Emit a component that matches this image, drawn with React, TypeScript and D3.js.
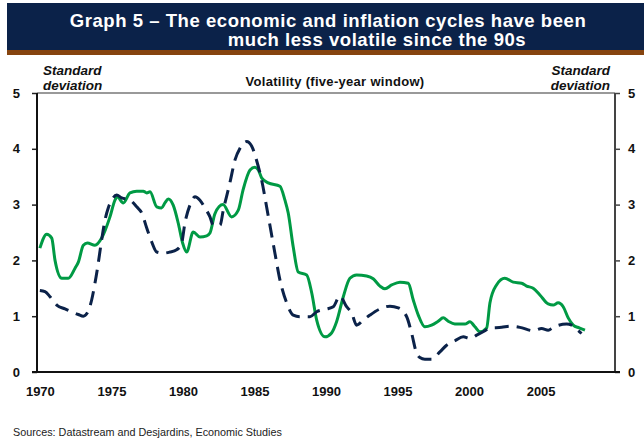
import * as d3 from "d3";
import { useEffect, useRef } from "react";

const titleLines = [
	"Graph 5 – The economic and inflation cycles have been",
	"much less volatile since the 90s",
];
const yTicks = [0, 1, 2, 3, 4, 5];
const xTickYears = [1970, 1975, 1980, 1985, 1990, 1995, 2000, 2005];

// [year, standard deviation] – green solid line
const economicVol: [number, number][] = [
	[1970.0, 2.22], [1970.48, 2.47], [1970.83, 2.4], [1971.06, 2.0], [1971.53, 1.68],
	[1971.99, 1.68], [1972.46, 1.86], [1972.69, 1.97], [1973.04, 2.27], [1973.32, 2.31],
	[1973.85, 2.27], [1974.32, 2.4], [1974.9, 2.78], [1975.25, 3.08], [1975.41, 3.14],
	[1975.83, 3.03], [1976.3, 3.21], [1976.77, 3.24], [1977.23, 3.24], [1977.47, 3.21],
	[1977.7, 3.23], [1978.17, 2.96], [1978.51, 2.94], [1978.74, 3.03], [1978.98, 3.1],
	[1979.32, 2.99], [1979.67, 2.67], [1979.98, 2.31], [1980.26, 2.15], [1980.72, 2.51],
	[1981.19, 2.42], [1981.66, 2.44], [1981.89, 2.49], [1982.24, 2.84], [1982.8, 3.0],
	[1983.4, 2.78], [1983.87, 2.9], [1984.2, 3.26], [1984.69, 3.62], [1985.03, 3.67],
	[1985.27, 3.62], [1985.5, 3.48], [1985.96, 3.39], [1986.78, 3.33], [1987.13, 3.08],
	[1987.36, 2.85], [1987.71, 2.24], [1988.06, 1.79], [1988.65, 1.74], [1989.0, 1.42],
	[1989.35, 0.93], [1989.93, 0.63], [1990.39, 0.7], [1990.74, 0.9], [1991.2, 1.34],
	[1991.67, 1.68], [1992.14, 1.74], [1992.84, 1.72], [1993.3, 1.67], [1993.77, 1.54],
	[1994.12, 1.49], [1994.59, 1.56], [1995.17, 1.61], [1995.75, 1.59], [1996.1, 1.29],
	[1996.45, 1.02], [1996.91, 0.81], [1997.38, 0.84], [1997.84, 0.91], [1998.19, 0.97],
	[1998.54, 0.91], [1999.01, 0.86], [1999.71, 0.86], [2000.06, 0.9], [2000.41, 0.81],
	[2000.76, 0.72], [2001.23, 0.79], [2001.46, 1.24], [2001.92, 1.56], [2002.5, 1.68],
	[2003.09, 1.61], [2003.67, 1.59], [2004.02, 1.54], [2004.48, 1.5], [2004.95, 1.38],
	[2005.53, 1.22], [2005.88, 1.2], [2006.23, 1.24], [2006.58, 1.17], [2006.93, 0.97],
	[2007.28, 0.84], [2007.7, 0.79], [2008.1, 0.75],
];

// [year, standard deviation] – navy dashed line
const inflationVol: [number, number][] = [
	[1970.0, 1.46], [1970.36, 1.44], [1970.71, 1.35], [1971.18, 1.2], [1971.76, 1.13],
	[1972.22, 1.08], [1972.69, 1.03], [1973.04, 1.0], [1973.32, 1.06], [1973.62, 1.29],
	[1973.85, 1.59], [1974.04, 1.88], [1974.32, 2.37], [1974.55, 2.72], [1974.78, 2.94],
	[1975.02, 3.08], [1975.37, 3.17], [1975.72, 3.12], [1976.3, 3.08], [1976.77, 2.96],
	[1977.12, 2.85], [1977.47, 2.58], [1977.82, 2.33], [1978.17, 2.15], [1978.63, 2.13],
	[1979.09, 2.15], [1979.56, 2.19], [1979.91, 2.31], [1980.14, 2.67], [1980.49, 2.99],
	[1980.84, 3.14], [1981.19, 3.08], [1981.54, 2.94], [1981.89, 2.78], [1982.12, 2.63],
	[1982.59, 2.63], [1982.82, 2.9], [1983.29, 3.4], [1983.64, 3.8], [1983.99, 4.01],
	[1984.45, 4.13], [1984.8, 4.05], [1985.15, 3.79], [1985.5, 3.44], [1985.96, 2.8],
	[1986.43, 2.13], [1986.78, 1.65], [1987.25, 1.24], [1987.71, 1.02], [1988.18, 0.99],
	[1988.88, 0.99], [1989.35, 1.08], [1990.04, 1.13], [1990.51, 1.17], [1990.97, 1.36],
	[1991.44, 1.17], [1991.79, 1.06], [1992.14, 0.84], [1992.6, 0.93], [1993.07, 1.02],
	[1993.77, 1.13], [1994.47, 1.18], [1995.05, 1.15], [1995.64, 0.99], [1995.98, 0.7],
	[1996.33, 0.34], [1996.56, 0.26], [1996.91, 0.23], [1997.38, 0.23], [1997.96, 0.36],
	[1998.43, 0.48], [1999.01, 0.56], [1999.59, 0.63], [2000.06, 0.6], [2000.53, 0.66],
	[2001.11, 0.74], [2001.46, 0.79], [2002.28, 0.8], [2002.86, 0.82], [2003.55, 0.8],
	[2004.48, 0.74], [2005.07, 0.78], [2005.53, 0.75], [2005.88, 0.8], [2006.82, 0.86],
	[2007.17, 0.84], [2007.51, 0.77], [2007.86, 0.69],
];

const NAVY = "#0b2249";
const GREEN = "#009a44";
const FONT = "'Liberation Sans', Arial, sans-serif";

export default function App() {
	const svgRef = useRef<SVGSVGElement>(null);

	useEffect(() => {
		if (!svgRef.current) return;
		const svg = d3.select(svgRef.current);
		svg.selectAll("*").remove();

		const plot = { left: 37, right: 615, top: 93, bottom: 372 };

		const x = d3.scaleLinear().domain([1969.8, 2010.2]).range([plot.left, plot.right]);
		const y = d3.scaleLinear().domain([0, 5]).range([plot.bottom, plot.top]);

		// Title band
		svg.append("rect").attr("x", 7).attr("y", 3).attr("width", 637).attr("height", 47).attr("fill", NAVY);
		svg.append("rect").attr("x", 7).attr("y", 50).attr("width", 637).attr("height", 5).attr("fill", "#86440f");
		svg.append("text")
			.attr("x", 328).attr("y", 27)
			.attr("text-anchor", "middle")
			.style("font", `bold 18.5px ${FONT}`)
			.style("letter-spacing", "0.55px")
			.attr("fill", "white")
			.text(titleLines[0]);
		svg.append("text")
			.attr("x", 377).attr("y", 46)
			.attr("text-anchor", "middle")
			.style("font", `bold 18.5px ${FONT}`)
			.style("letter-spacing", "0.55px")
			.attr("fill", "white")
			.text(titleLines[1]);

		// Unit labels
		const unit = (xPos: number, anchor: string) => {
			const t = svg.append("text")
				.attr("text-anchor", anchor)
				.style("font", `italic bold 13.5px ${FONT}`)
				.attr("fill", "#111");
			t.append("tspan").attr("x", xPos).attr("y", 75).text("Standard");
			t.append("tspan").attr("x", xPos).attr("y", 90).text("deviation");
		};
		unit(43, "start");
		unit(610, "end");

		svg.append("text")
			.attr("x", 335).attr("y", 86)
			.attr("text-anchor", "middle")
			.style("font", `bold 13px ${FONT}`)
			.style("letter-spacing", "0.3px")
			.attr("fill", "#111")
			.text("Volatility (five-year window)");

		// Top border
		svg.append("line")
			.attr("x1", plot.left).attr("x2", plot.right)
			.attr("y1", plot.top).attr("y2", plot.top)
			.attr("stroke", "#777").attr("stroke-width", 1.5);

		// Axes
		const styleAxis = (g: any, color: string) => {
			g.select(".domain").remove();
			g.selectAll("line").attr("stroke", color).attr("stroke-width", 1.5);
			g.selectAll("text")
				.style("font", `bold 13px ${FONT}`)
				.attr("fill", "#111");
		};

		const left = svg.append("g")
			.attr("transform", `translate(${plot.left},0)`)
			.call(d3.axisLeft(y).tickValues(yTicks).tickSize(5).tickPadding(12).tickFormat(d3.format("d")));
		styleAxis(left, "#222");

		const right = svg.append("g")
			.attr("transform", `translate(${plot.right},0)`)
			.call(d3.axisRight(y).tickValues(yTicks).tickSize(5).tickPadding(8).tickFormat(d3.format("d")));
		styleAxis(right, "#444");

		const bottom = svg.append("g")
			.attr("transform", `translate(0,${plot.bottom})`)
			.call(d3.axisBottom(x).tickValues(xTickYears).tickSize(0).tickPadding(15).tickFormat(d3.format("d")));
		styleAxis(bottom, "#222");

		svg.append("line")
			.attr("x1", plot.left).attr("x2", plot.left)
			.attr("y1", plot.top).attr("y2", plot.bottom)
			.attr("stroke", "#111").attr("stroke-width", 2);
		svg.append("line")
			.attr("x1", plot.right).attr("x2", plot.right)
			.attr("y1", plot.top).attr("y2", plot.bottom)
			.attr("stroke", "#444").attr("stroke-width", 2);
		svg.append("line")
			.attr("x1", plot.left - 5).attr("x2", plot.right + 5)
			.attr("y1", plot.bottom).attr("y2", plot.bottom)
			.attr("stroke", "#111").attr("stroke-width", 2);

		// Lines
		const line = d3.line<[number, number]>()
			.x((d) => x(d[0]))
			.y((d) => y(d[1]))
			.curve(d3.curveMonotoneX);

		svg.append("path")
			.datum(economicVol)
			.attr("d", line)
			.attr("fill", "none")
			.attr("stroke", GREEN)
			.attr("stroke-width", 3)
			.attr("stroke-linejoin", "round");

		svg.append("path")
			.datum(inflationVol)
			.attr("d", line)
			.attr("fill", "none")
			.attr("stroke", NAVY)
			.attr("stroke-width", 3)
			.attr("stroke-dasharray", "14,8");

		// Sources
		svg.append("text")
			.attr("x", 13).attr("y", 436)
			.style("font", `10.8px ${FONT}`)
			.attr("fill", "#222")
			.text("Sources: Datastream and Desjardins, Economic Studies");
	}, []);

	return (
		<svg
			ref={svgRef}
			width={644}
			height={439}
			style={{ position: "absolute", left: 0, top: 0, background: "white" }}
		/>
	);
}
